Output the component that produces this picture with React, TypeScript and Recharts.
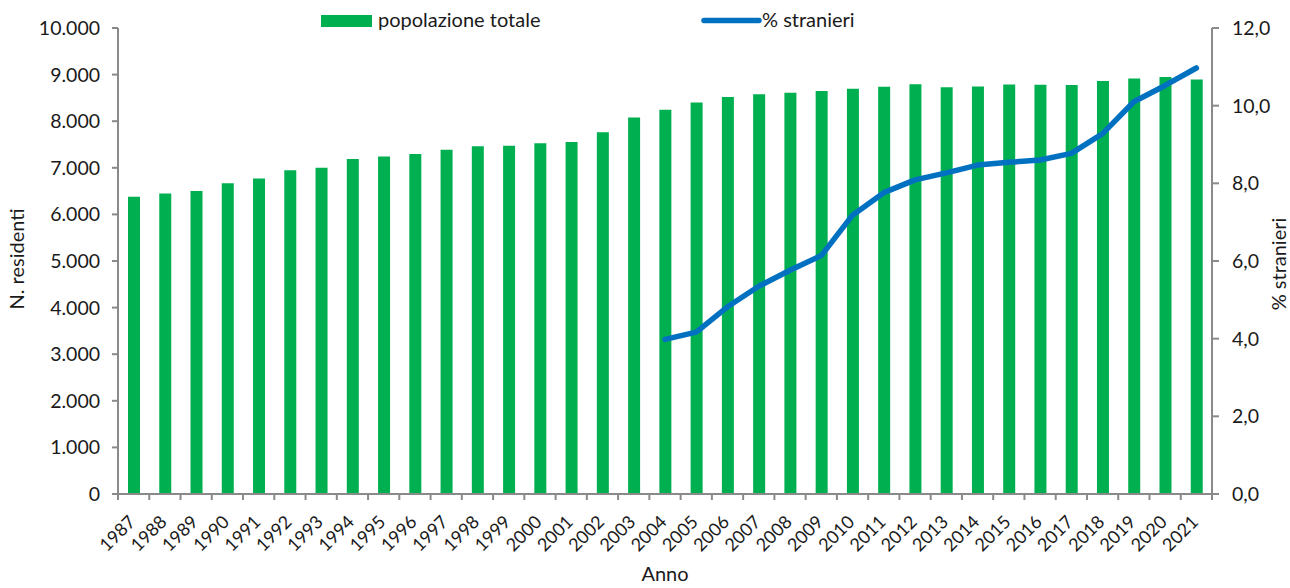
import React from 'react';
import { ComposedChart, Bar, Line, XAxis, YAxis } from 'recharts';

// anni e valori
const anni = [
  '1987', '1988', '1989', '1990', '1991', '1992', '1993', '1994', '1995', '1996',
  '1997', '1998', '1999', '2000', '2001', '2002', '2003', '2004', '2005', '2006',
  '2007', '2008', '2009', '2010', '2011', '2012', '2013', '2014', '2015', '2016',
  '2017', '2018', '2019', '2020', '2021',
];

const popolazioneTotale = [
  6380, 6450, 6500, 6670, 6770, 6950, 7000, 7190, 7245, 7295,
  7390, 7465, 7475, 7525, 7555, 7765, 8080, 8245, 8400, 8520,
  8580, 8610, 8650, 8695, 8740, 8795, 8730, 8745, 8785, 8780,
  8775, 8865, 8915, 8950, 8895,
];

const percStranieri = [
  null, null, null, null, null, null, null, null, null, null,
  null, null, null, null, null, null, null, 3.98, 4.17, 4.82,
  5.35, 5.76, 6.14, 7.18, 7.76, 8.09, 8.27, 8.47, 8.54, 8.6,
  8.77, 9.28, 10.1, 10.52, 10.97,
];

const ticksResidenti = [0, 1000, 2000, 3000, 4000, 5000, 6000, 7000, 8000, 9000, 10000];
const ticksStranieri = [0, 2, 4, 6, 8, 10, 12];

const data = anni.map((anno, i) => ({
  anno,
  popolazione: popolazioneTotale[i],
  stranieri: percStranieri[i],
}));

const W = 1290;
const H = 588;
const LEFT_W = 118;
const RIGHT_W = 78;
const BAND = (W - LEFT_W - RIGHT_W) / anni.length;

const GREEN = '#00B050';
const BLUE = '#0070C0';
const AXIS = '#8a8a8a';
const TEXT = '#1a1a1a';
const FONT = 'Lato, "Open Sans", sans-serif';
const FS = 20;
const FS_TICK = 19.5;
const FS_ANNI = 18;

const fmtMigliaia = (v: number) => String(v).replace(/\B(?=(\d{3})+(?!\d))/g, '.');
const fmtPerc = (v: number) => v.toFixed(1).replace('.', ',');

const YearTick = (props: any) => {
  const { x, y, payload, index } = props;
  const half = BAND / 2;
  const ax = x + 3;
  const ay = y + 29;
  return (
    <g>
      <line x1={x - half} y1={y} x2={x - half} y2={y + 6} stroke={AXIS} strokeWidth={2} />
      {index === anni.length - 1 && (
        <line x1={x + half} y1={y} x2={x + half} y2={y + 6} stroke={AXIS} strokeWidth={2} />
      )}
      <text
        x={ax}
        y={ay}
        textAnchor="end"
        transform={`rotate(-45 ${ax} ${ay})`}
        fill={TEXT}
        fontSize={FS_ANNI}
        fontFamily={FONT}
      >
        {payload.value}
      </text>
    </g>
  );
};

export default function App() {
  return (
    <div style={{ position: 'absolute', left: 0, top: 0, width: W, height: H, background: '#fff', fontFamily: FONT }}>
      <ComposedChart width={W} height={H} data={data} margin={{ top: 28, right: 0, bottom: 0, left: 0 }}>
        <XAxis
          dataKey="anno"
          height={94}
          interval={0}
          tickLine={false}
          tickSize={0}
          tickMargin={0}
          axisLine={{ stroke: AXIS, strokeWidth: 2 }}
          tick={<YearTick />}
          label={{
            content: () => (
              <text x={665} y={581} textAnchor="middle" fill={TEXT} fontSize={FS} fontFamily={FONT}>
                Anno
              </text>
            ),
          }}
        />
        <YAxis
          yAxisId="left"
          width={LEFT_W}
          domain={[0, 10000]}
          ticks={ticksResidenti}
          tickFormatter={fmtMigliaia}
          tickSize={6}
          tickMargin={12}
          axisLine={{ stroke: AXIS, strokeWidth: 2 }}
          tickLine={{ stroke: AXIS, strokeWidth: 2 }}
          tick={{ fill: TEXT, fontSize: FS_TICK, fontFamily: FONT }}
          label={{
            content: () => (
              <text x={24} y={259} textAnchor="middle" transform="rotate(-90 24 259)" fill={TEXT} fontSize={FS} fontFamily={FONT}>
                N. residenti
              </text>
            ),
          }}
        />
        <YAxis
          yAxisId="right"
          orientation="right"
          width={RIGHT_W}
          domain={[0, 12]}
          ticks={ticksStranieri}
          tickFormatter={fmtPerc}
          tickSize={7}
          tickMargin={13}
          axisLine={{ stroke: AXIS, strokeWidth: 2 }}
          tickLine={{ stroke: AXIS, strokeWidth: 2 }}
          tick={{ fill: TEXT, fontSize: FS_TICK, fontFamily: FONT }}
          label={{
            content: () => (
              <text x={1286} y={264} textAnchor="middle" transform="rotate(-90 1286 264)" fill={TEXT} fontSize={FS} fontFamily={FONT}>
                % stranieri
              </text>
            ),
          }}
        />
        <Bar yAxisId="left" dataKey="popolazione" fill={GREEN} barSize={12} isAnimationActive={false} />
        <Line
          yAxisId="right"
          type="linear"
          dataKey="stranieri"
          stroke={BLUE}
          strokeWidth={5.5}
          strokeLinecap="round"
          strokeLinejoin="round"
          dot={false}
          activeDot={false}
          isAnimationActive={false}
        />
      </ComposedChart>
      <svg width={W} height={40} style={{ position: 'absolute', left: 0, top: 0 }}>
        <rect x={321} y={15} width={51} height={12} fill={GREEN} />
        <text x={378} y={26.5} fill={TEXT} fontSize={FS} fontFamily={FONT}>
          popolazione totale
        </text>
        <line x1={704} y1={20.5} x2={759} y2={20.5} stroke={BLUE} strokeWidth={5.5} strokeLinecap="round" />
        <text x={762} y={26.5} fill={TEXT} fontSize={FS} fontFamily={FONT}>
          % stranieri
        </text>
      </svg>
    </div>
  );
}
